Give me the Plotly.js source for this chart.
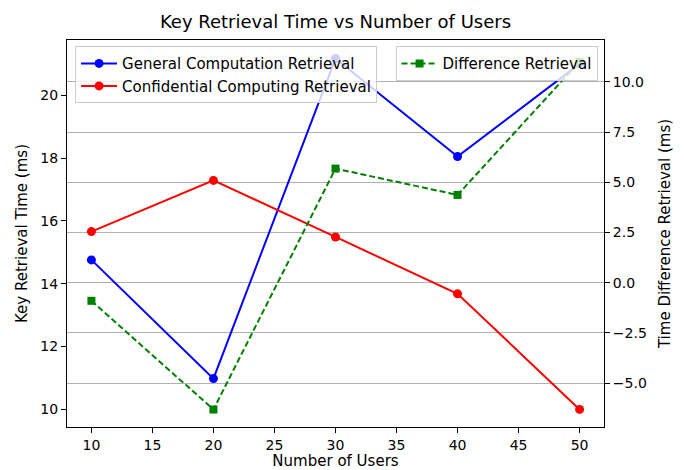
<!DOCTYPE html>
<html>
<head>
<meta charset="utf-8">
<script src="https://cdn.plot.ly/plotly-3.0.1.min.js"></script>
<style>html,body{margin:0;padding:0;background:#fff;}#chart{width:684px;height:470px;}</style>
</head>
<body>
<div id="chart"></div>
<script>
const users = [10, 20, 30, 40, 50];
const generalRetrieval = [14.76, 10.98, 21.17, 18.05, 21.0];
const confidentialRetrieval = [15.66, 17.29, 15.49, 13.68, 10.0];
const differenceRetrieval = [-0.9, -6.31, 5.68, 4.37, 11.0];

const tickFont = {family: 'DejaVu Sans', size: 14, color: '#000'};
const labelFont = {family: 'DejaVu Sans', size: 15, color: '#000'};

const traces = [
  {x: users, y: generalRetrieval, name: 'General Computation Retrieval', type: 'scatter', mode: 'lines+markers',
   line: {color: '#0000ff', width: 2}, marker: {symbol: 'circle', size: 9, color: '#0000ff'}, legend: 'legend', yaxis: 'y'},
  {x: users, y: confidentialRetrieval, name: 'Confidential Computing Retrieval', type: 'scatter', mode: 'lines+markers',
   line: {color: '#ff0000', width: 2}, marker: {symbol: 'circle', size: 9, color: '#ff0000'}, legend: 'legend', yaxis: 'y'},
  {x: users, y: differenceRetrieval, name: 'Difference Retrieval', type: 'scatter', mode: 'lines+markers',
   line: {color: '#008000', width: 2, dash: '6px,3px'}, marker: {symbol: 'square', size: 8, color: '#008000'}, legend: 'legend2', yaxis: 'y2'}
];

const layout = {
  width: 684, height: 470,
  margin: {l: 67, r: 80, t: 40, b: 43},
  paper_bgcolor: '#fff', plot_bgcolor: '#fff',
  font: tickFont,
  title: {text: 'Key Retrieval Time vs Number of Users', font: {family: 'DejaVu Sans', size: 18, color: '#000'}, xref: 'paper', x: 0.5, xanchor: 'center', y: 0.953, yanchor: 'middle'},
  xaxis: {range: [8, 52], tickvals: [10,15,20,25,30,35,40,45,50], ticks: 'outside', ticklen: 5, tickcolor: '#000', tickfont: tickFont,
    showline: true, linecolor: '#000', linewidth: 1, mirror: true, showgrid: false, zeroline: false,
    title: {text: 'Number of Users', font: labelFont, standoff: 5}},
  yaxis: {range: [9.44, 21.76], tickvals: [10,12,14,16,18,20], ticks: 'outside', ticklen: 5, tickcolor: '#000', tickfont: tickFont,
    showline: true, linecolor: '#000', linewidth: 1, showgrid: false, zeroline: false,
    title: {text: 'Key Retrieval Time (ms)', font: labelFont, standoff: 9}},
  yaxis2: {range: [-7.18, 12.08], overlaying: 'y', side: 'right', tickvals: [-5, -2.5, 0, 2.5, 5, 7.5, 10], tickformat: '.1f',
    ticks: 'outside', ticklen: 5, tickcolor: '#000', tickfont: tickFont, showline: true, linecolor: '#000', linewidth: 1,
    showgrid: true, gridcolor: '#b0b0b0', gridwidth: 1, zeroline: false,
    title: {text: 'Time Difference Retrieval (ms)', font: labelFont, standoff: 13}},
  legend: {x: 0.015, y: 0.984, xanchor: 'left', yanchor: 'top', bgcolor: 'rgba(255,255,255,0.8)', bordercolor: '#cccccc', borderwidth: 1,
    font: labelFont, tracegroupgap: 0, itemwidth: 36},
  legend2: {x: 0.988, y: 0.984, xanchor: 'right', yanchor: 'top', bgcolor: 'rgba(255,255,255,0.8)', bordercolor: '#cccccc', borderwidth: 1,
    font: labelFont, itemwidth: 36},
  showlegend: true
};

Plotly.newPlot('chart', traces, layout, {displayModeBar: false, staticPlot: true});
</script>
</body>
</html>
